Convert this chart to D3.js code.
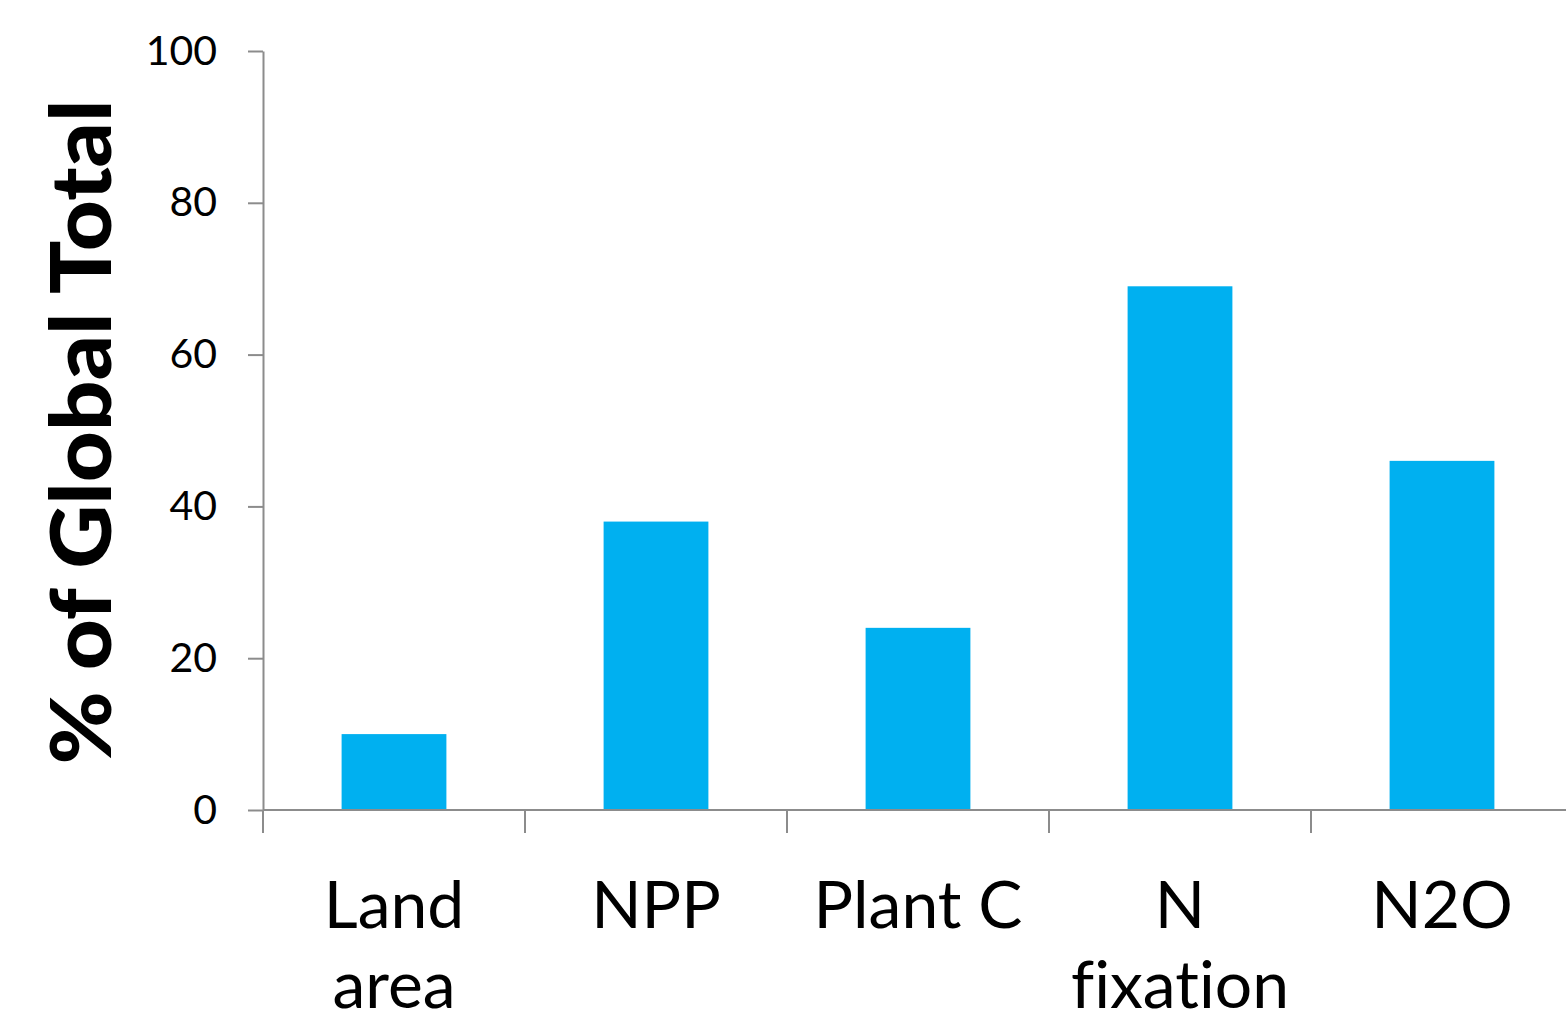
<!DOCTYPE html>
<html>
<head>
<meta charset="utf-8">
<script src="https://cdn.jsdelivr.net/npm/d3@7"></script>
<style>
  html, body { margin: 0; padding: 0; background: #ffffff; }
  svg { display: block; }
  text { font-variant-ligatures: none; font-feature-settings: "liga" 0; }
</style>
</head>
<body>
<svg id="chart" width="1566" height="1024"></svg>
<script>
// Share of global totals by quantity
const categories = [["Land", "area"], ["NPP"], ["Plant C"], ["N", "fixation"], ["N2O"]];
const values = [10, 38, 24, 69, 46];
const yTicks = [0, 20, 40, 60, 80, 100];
const yTitle = "% of Global Total";

(function () {
  const svg = d3.select("#chart");
  const axisColor = "#8c8c8c";
  const barColor = "#00b0f0";
  const font = "Lato, 'Open Sans', sans-serif";

  const plotLeft = 263, plotRight = 1573, plotTop = 51, plotBottom = 810;
  const keys = categories.map(c => c.join(" "));

  const x = d3.scaleBand().domain(keys).range([plotLeft, plotRight]).padding(0);
  const y = d3.scaleLinear().domain([0, 100]).range([plotBottom, plotTop]);

  // bars, 40% of each category slot, centred
  const barFrac = 0.4;
  svg.append("g").selectAll("rect")
    .data(values)
    .join("rect")
    .attr("x", (d, i) => x(keys[i]) + x.bandwidth() * (1 - barFrac) / 2)
    .attr("width", x.bandwidth() * barFrac)
    .attr("y", d => y(d))
    .attr("height", d => y(0) - y(d))
    .attr("fill", barColor);

  // y axis
  const yAxis = svg.append("g")
    .attr("transform", `translate(${plotLeft},0)`)
    .call(d3.axisLeft(y).tickValues(yTicks).tickSize(15).tickPadding(31).tickSizeOuter(0));
  yAxis.select(".domain").attr("stroke", axisColor).attr("stroke-width", 2);
  yAxis.selectAll(".tick line").attr("stroke", axisColor).attr("stroke-width", 2);
  yAxis.selectAll(".tick text")
    .attr("fill", "#000")
    .style("font-family", font)
    .style("font-size", "41px");

  // x axis baseline and category dividers
  svg.append("line")
    .attr("x1", plotLeft).attr("x2", plotRight)
    .attr("y1", y(0)).attr("y2", y(0))
    .attr("stroke", axisColor).attr("stroke-width", 2);

  const dividers = keys.map(k => x(k)).concat([x(keys[keys.length - 1]) + x.bandwidth()]);
  svg.append("g").selectAll("line")
    .data(dividers)
    .join("line")
    .attr("x1", d => d).attr("x2", d => d)
    .attr("y1", y(0)).attr("y2", y(0) + 23)
    .attr("stroke", axisColor).attr("stroke-width", 2);

  // category labels
  const labels = svg.append("g").selectAll("text")
    .data(categories)
    .join("text")
    .attr("x", (d, i) => x(keys[i]) + x.bandwidth() / 2)
    .attr("y", 928)
    .attr("text-anchor", "middle")
    .attr("fill", "#000")
    .style("font-family", font)
    .style("font-size", "66px");
  labels.selectAll("tspan")
    .data(d => d)
    .join("tspan")
    .attr("x", function () { return d3.select(this.parentNode).attr("x"); })
    .attr("dy", (d, i) => i === 0 ? 0 : 80)
    .text(d => d);

  // y title
  svg.append("text")
    .attr("transform", "translate(111,432) rotate(-90)")
    .attr("text-anchor", "middle")
    .attr("fill", "#000")
    .style("font-family", font)
    .style("font-weight", "900")
    .style("font-size", "84px")
    .attr("textLength", 665)
    .attr("lengthAdjust", "spacingAndGlyphs")
    .text(yTitle);
})();
</script>
</body>
</html>
